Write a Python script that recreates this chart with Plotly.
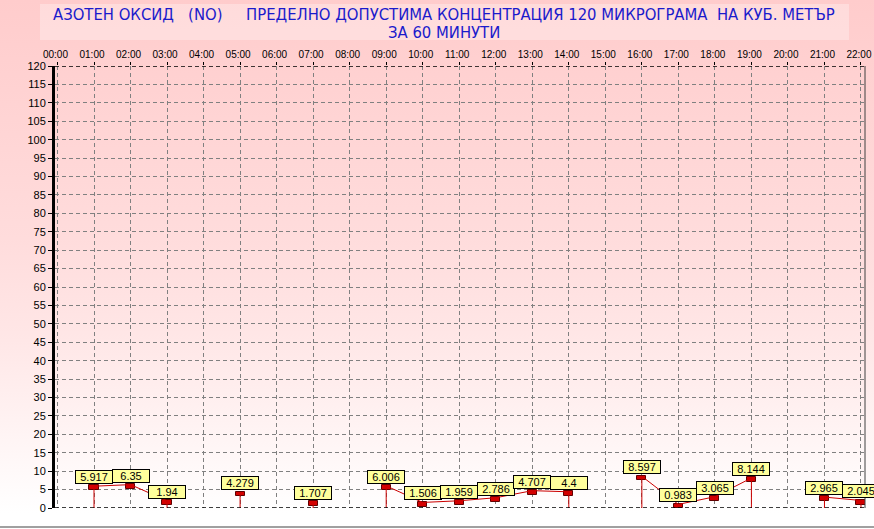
import base64
import plotly.graph_objects as go

# ---- data ----
hour_labels = ["00:00", "01:00", "02:00", "03:00", "04:00", "05:00", "06:00", "07:00",
               "08:00", "09:00", "10:00", "11:00", "12:00", "13:00", "14:00", "15:00",
               "16:00", "17:00", "18:00", "19:00", "20:00", "21:00", "22:00"]
hours = list(range(23))
no_values = [None, 5.917, 6.35, 1.94, None, 4.279, None, 1.707, None, 6.006, 1.506,
             1.959, 2.786, 4.707, 4.4, None, 8.597, 0.983, 3.065, 8.144, None, 2.965, 2.045]
value_text = ["", "5.917", "6.35", "1.94", "", "4.279", "", "1.707", "", "6.006", "1.506",
              "1.959", "2.786", "4.707", "4.4", "", "8.597", "0.983", "3.065", "8.144", "", "2.965", "2.045"]
y_ticks = list(range(0, 121, 5))
title_line1 = "АЗОТЕН ОКСИД\u00a0\u00a0\u00a0(NO)\u00a0\u00a0\u00a0\u00a0\u00a0ПРЕДЕЛНО ДОПУСТИМА КОНЦЕНТРАЦИЯ 120 МИКРОГРАМА\u00a0\u00a0НА КУБ. МЕТЪР"
title_line2 = "ЗА 60 МИНУТИ"

# ---- geometry ----
W, H = 874, 529
ML, MR, MT, MB = 55, 9, 66, 21
PW, PH = W - ML - MR, H - MT - MB

def px_to_paper_x(px):
    return (px - ML) / PW

def px_to_paper_y(py):
    return (H - MB - py) / PH

RED = "#cc0000"
SANS = "Liberation Sans, Arial, sans-serif"
TITLE_FONT = "DejaVu Sans Condensed, Liberation Sans, Arial, sans-serif"

present = [(h, v) for h, v in zip(hours, no_values) if v is not None]
present_hours = {h for h, _ in present}

fig = go.Figure()

# stems at segment ends
sx, sy = [], []
for h, v in present:
    if (h - 1) not in present_hours or (h + 1) not in present_hours:
        sx += [h, h, None]
        sy += [0, v, None]
fig.add_trace(go.Scatter(x=sx, y=sy, mode="lines", line=dict(color=RED, width=1),
                         hoverinfo="skip", showlegend=False))

# connecting line
fig.add_trace(go.Scatter(x=hours, y=no_values, mode="lines", connectgaps=False,
                         line=dict(color=RED, width=1), showlegend=False))

# rectangular markers
fig.add_trace(go.Bar(x=[h for h, _ in present], y=[1.3] * len(present),
                     base=[v - 1.1 for _, v in present], width=0.25,
                     marker=dict(color="#d40000", line=dict(color="#600000", width=1)),
                     showlegend=False))

# value labels
for h, v, t in zip(hours, no_values, value_text):
    if v is None:
        continue
    fig.add_annotation(x=h, y=v, text=t, showarrow=False, xanchor="center", yanchor="bottom",
                       yshift=2, font=dict(family=SANS, size=11, color="black"),
                       bgcolor="#ffff9c", bordercolor="black", borderwidth=1, borderpad=1,
                       width=34, height=10)

# gradient background
svg = ('<svg xmlns="http://www.w3.org/2000/svg" width="874" height="529" preserveAspectRatio="none">'
       '<defs><linearGradient id="g" x1="0" y1="0" x2="0" y2="1">'
       '<stop offset="0" stop-color="#ffcccc"/>'
       '<stop offset="0.45" stop-color="#ffdcdc"/>'
       '<stop offset="0.63" stop-color="#ffe6e6"/>'
       '<stop offset="0.97" stop-color="#ffffff"/>'
       '</linearGradient></defs><rect width="874" height="529" fill="url(#g)"/></svg>')
src = "data:image/svg+xml;base64," + base64.b64encode(svg.encode()).decode()

fig.add_layout_image(dict(source=src, xref="paper", yref="paper",
                          x=px_to_paper_x(0), y=px_to_paper_y(0),
                          sizex=W / PW, sizey=H / PH, sizing="stretch",
                          xanchor="left", yanchor="top", layer="below"))

shapes = [
    dict(type="rect", xref="paper", yref="paper", x0=px_to_paper_x(40), x1=px_to_paper_x(849),
         y0=px_to_paper_y(40), y1=px_to_paper_y(4), fillcolor="rgba(255,255,255,0.3)",
         line=dict(width=0), layer="below"),
    dict(type="line", xref="paper", yref="y", x0=0, x1=1, y0=120, y1=120,
         line=dict(color="black", width=1.5, dash="4px,3px")),
    dict(type="line", xref="paper", yref="y", x0=0, x1=1, y0=0, y1=0,
         line=dict(color="black", width=1.5, dash="4px,3px")),
    dict(type="line", xref="paper", yref="paper", x0=1, x1=1, y0=0, y1=1,
         line=dict(color="#404040", width=1)),
    dict(type="line", xref="paper", yref="paper", x0=px_to_paper_x(0), x1=px_to_paper_x(W),
         y0=px_to_paper_y(527), y1=px_to_paper_y(527), line=dict(color="#a0a0a0", width=2)),
]

for text, ypx in ((title_line1, 14.5), (title_line2, 32)):
    fig.add_annotation(text=text, xref="paper", yref="paper", x=px_to_paper_x(444),
                       y=px_to_paper_y(ypx), xanchor="center", yanchor="middle", showarrow=False,
                       font=dict(family=TITLE_FONT, size=16.5, color="#1a1acc"))

fig.update_layout(
    width=W, height=H,
    margin=dict(l=ML, r=MR, t=MT, b=MB, autoexpand=False),
    paper_bgcolor="white", plot_bgcolor="rgba(0,0,0,0)",
    shapes=shapes, barmode="overlay", bargap=0,
    xaxis=dict(range=[-0.068, 22.11], side="top", tickmode="array", tickvals=hours,
               ticktext=hour_labels, tickfont=dict(family=SANS, size=10, color="black"),
               ticklabelshift=-2, automargin=False,
               showgrid=True, gridcolor="#808080", gridwidth=1, griddash="4px,3px",
               zeroline=False, ticks="outside", ticklen=3, tickcolor="black", showline=False),
    yaxis=dict(range=[0, 120], tickmode="array", tickvals=y_ticks, automargin=False,
               tickfont=dict(family=SANS, size=11, color="black"),
               showgrid=True, gridcolor="#808080", gridwidth=1, griddash="4px,3px",
               zeroline=False, ticks="outside", ticklen=4, tickcolor="black",
               showline=True, linewidth=3, linecolor="black"),
    hovermode=False,
)

fig.write_html("out.html", config={"displayModeBar": False},
               post_script="document.body.style.margin='0';")
